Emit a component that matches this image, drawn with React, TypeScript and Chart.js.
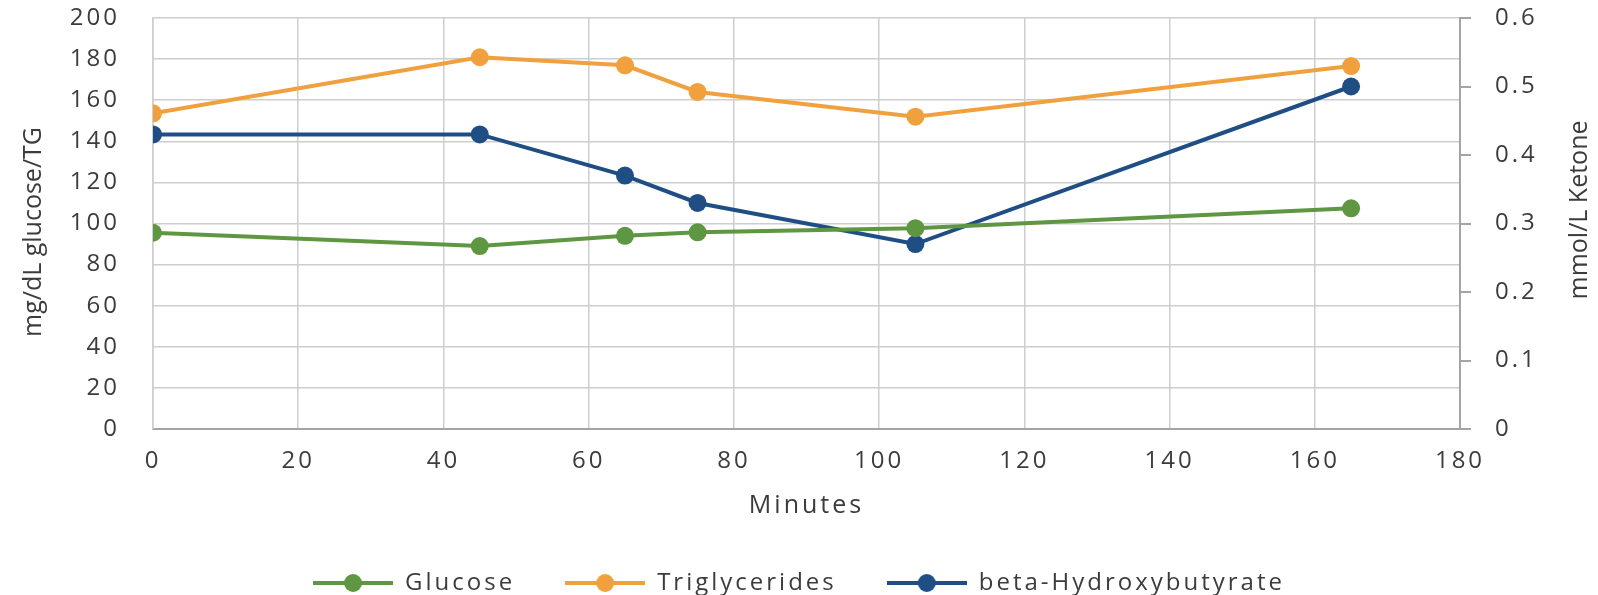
import React, { useEffect, useRef } from 'react';
import { Chart, registerables } from 'chart.js';

Chart.register(...registerables);

// ---- Data ----
const minutes = [0, 45, 65, 75, 105, 165];
const glucose = [95.5, 89, 94, 95.7, 97.7, 107.4];
const triglycerides = [153.6, 180.9, 177, 164, 152, 176.6];
const betaHydroxybutyrate = [0.43, 0.43, 0.37, 0.33, 0.27, 0.5];

const seriesNames = ['Glucose', 'Triglycerides', 'beta-Hydroxybutyrate'];
const seriesColors = ['#5e9642', '#f0a03c', '#1f4e85'];

const xTitle = 'Minutes';
const leftTitle = 'mg/dL glucose/TG';
const rightTitle = 'mmol/L Ketone';

const FONT = "'Open Sans', sans-serif";
const TEXT = '#3c3c3c';
const GRID = '#cecece';
const AXIS = '#a4a4a4';
const SPACING = '3px';

function makeIcon(color: string): HTMLCanvasElement {
  const c = document.createElement('canvas');
  c.width = 80;
  c.height = 20;
  const ctx = c.getContext('2d')!;
  ctx.strokeStyle = color;
  ctx.lineWidth = 4;
  ctx.beginPath();
  ctx.moveTo(0, 10);
  ctx.lineTo(80, 10);
  ctx.stroke();
  ctx.fillStyle = color;
  ctx.beginPath();
  ctx.arc(40, 10, 9, 0, Math.PI * 2);
  ctx.fill();
  return c;
}

export default function App() {
  const ref = useRef<HTMLCanvasElement | null>(null);

  useEffect(() => {
    if (!ref.current) return;
    const icons = seriesColors.map(makeIcon);
    const toPoints = (arr: number[]) => arr.map((v, i) => ({ x: minutes[i], y: v }));

    const spacingPlugin = {
      id: 'spacing',
      beforeLayout(chart: any) {
        chart.ctx.letterSpacing = SPACING;
      },
      beforeDraw(chart: any) {
        chart.ctx.letterSpacing = SPACING;
      },
    };

    const titlesPlugin = {
      id: 'vTitles',
      afterDraw(chart: any) {
        const { ctx } = chart;
        const drawV = (text: string, x: number, y: number) => {
          ctx.save();
          ctx.letterSpacing = '0px';
          ctx.font = `25px ${FONT}`;
          ctx.fillStyle = TEXT;
          ctx.textAlign = 'center';
          ctx.textBaseline = 'middle';
          ctx.translate(x, y);
          ctx.rotate(-Math.PI / 2);
          ctx.fillText(text, 0, 0);
          ctx.restore();
        };
        drawV(leftTitle, 34, 232);
        drawV(rightTitle, 1580, 210);
      },
    };

    const fixV = (w: number) => (s: any) => {
      s.width = w;
      s.paddingTop = 0;
      s.paddingBottom = 0;
    };

    const chart = new Chart(ref.current, {
      type: 'line',
      data: {
        datasets: [
          {
            label: seriesNames[0],
            data: toPoints(glucose),
            borderColor: seriesColors[0],
            backgroundColor: seriesColors[0],
            yAxisID: 'y',
          },
          {
            label: seriesNames[1],
            data: toPoints(triglycerides),
            borderColor: seriesColors[1],
            backgroundColor: seriesColors[1],
            yAxisID: 'y',
          },
          {
            label: seriesNames[2],
            data: toPoints(betaHydroxybutyrate),
            borderColor: seriesColors[2],
            backgroundColor: seriesColors[2],
            yAxisID: 'y1',
          },
        ],
      },
      options: {
        animation: false,
        responsive: true,
        maintainAspectRatio: false,
        layout: { padding: { left: 0, right: 0, top: 18, bottom: -10 } },
        elements: {
          line: { borderWidth: 4, tension: 0 },
          point: { radius: 9, borderWidth: 0, hoverRadius: 9 },
        },
        plugins: {
          tooltip: { enabled: false },
          legend: {
            position: 'bottom',
            labels: {
              usePointStyle: true,
              pointStyleWidth: 80,
              padding: 50,
              color: TEXT,
              font: { family: FONT, size: 24 },
              generateLabels: () =>
                seriesNames.map((name, i) => ({
                  text: name,
                  pointStyle: icons[i],
                  fillStyle: seriesColors[i],
                  strokeStyle: seriesColors[i],
                  lineWidth: 0,
                  hidden: false,
                  datasetIndex: i,
                  fontColor: TEXT,
                })),
            },
          },
        },
        scales: {
          x: {
            type: 'linear',
            min: 0,
            max: 180,
            ticks: { stepSize: 20, color: TEXT, font: { family: FONT, size: 24 }, padding: 18 },
            grid: { color: GRID, lineWidth: 1.5, drawTicks: false },
            border: { color: AXIS, width: 2 },
            title: {
              display: true,
              text: xTitle,
              color: TEXT,
              font: { family: FONT, size: 25 },
              padding: { top: 4, bottom: 0 },
            },
            afterFit: (s: any) => {
              s.height = 92;
            },
          },
          y: {
            position: 'left',
            min: 0,
            max: 200,
            ticks: { stepSize: 20, color: TEXT, font: { family: FONT, size: 24 }, padding: 33 },
            grid: { color: GRID, lineWidth: 1.5, drawTicks: false },
            border: { color: GRID, width: 1.5 },
            afterFit: fixV(153),
          },
          y1: {
            position: 'right',
            min: 0,
            max: 0.6,
            ticks: { stepSize: 0.1, color: TEXT, font: { family: FONT, size: 24 }, padding: 24 },
            grid: { drawOnChartArea: false, drawTicks: true, tickLength: 11, color: AXIS, tickColor: AXIS, lineWidth: 2 },
            border: { color: AXIS, width: 2 },
            afterFit: fixV(138),
          },
        },
      },
      plugins: [spacingPlugin, titlesPlugin],
    });
    return () => chart.destroy();
  }, []);

  return (
    <div style={{ position: 'absolute', left: 0, top: 0, width: 1598, height: 595, background: '#fff' }}>
      <canvas ref={ref} />
    </div>
  );
}
